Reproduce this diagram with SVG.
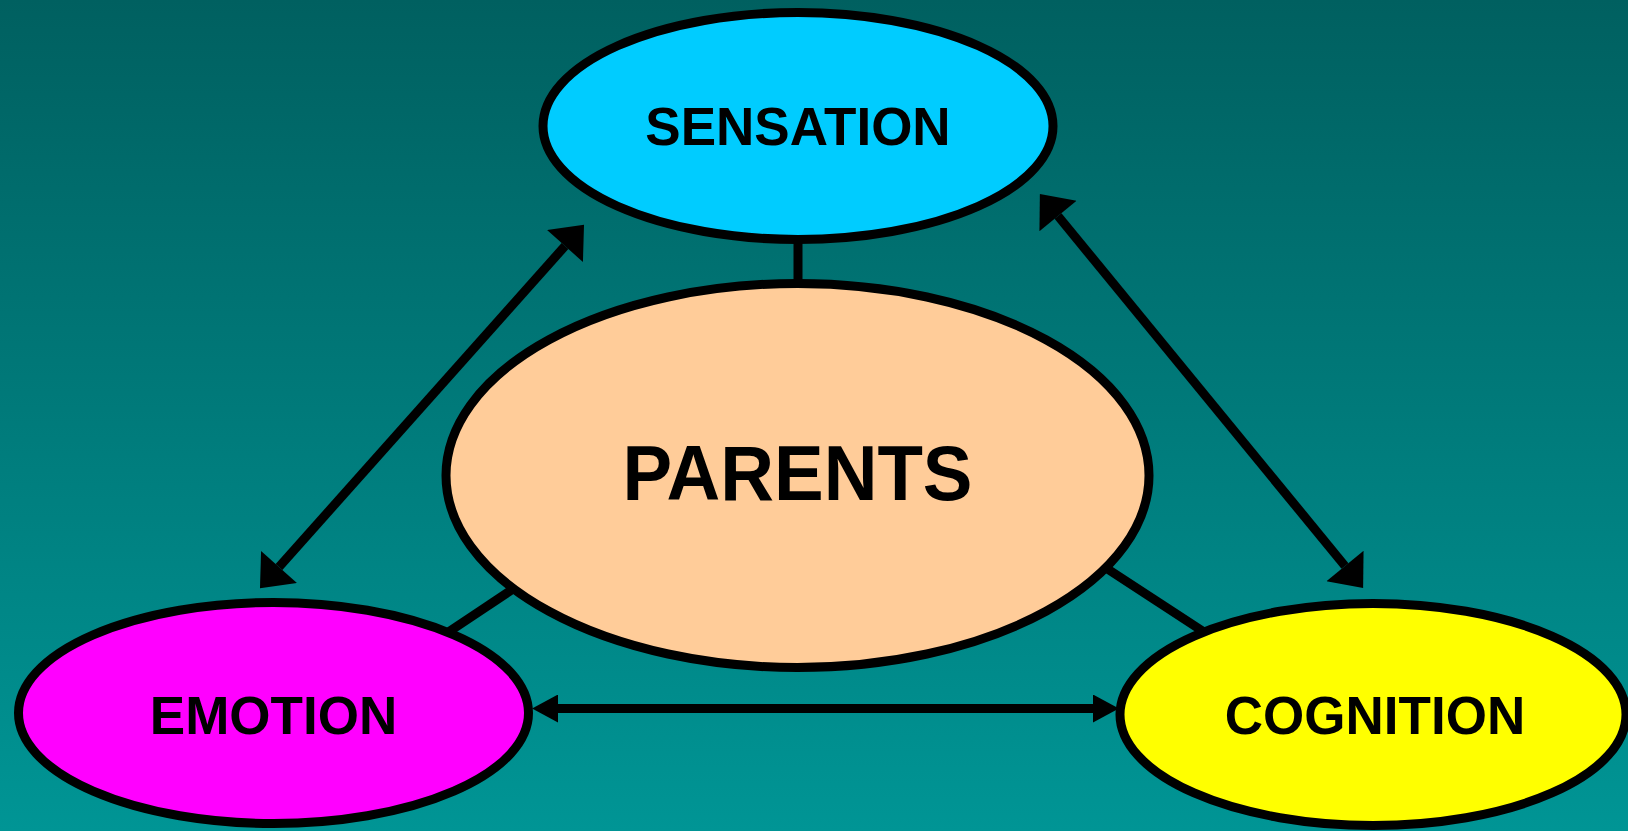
<svg xmlns="http://www.w3.org/2000/svg" width="1628" height="831" viewBox="0 0 1628 831">
<defs>
<linearGradient id="bg" x1="0" y1="0" x2="0" y2="1">
<stop offset="0" stop-color="#006060"/>
<stop offset="1" stop-color="#009595"/>
</linearGradient>
<marker id="bigHead" markerUnits="userSpaceOnUse" markerWidth="30" markerHeight="48" viewBox="0 0 28 47" refX="0" refY="23.5" orient="auto-start-reverse">
<path d="M0,0 L28,23.5 L0,47 Z" fill="#000"/>
</marker>
<marker id="smallHead" markerUnits="userSpaceOnUse" markerWidth="26" markerHeight="28" viewBox="0 0 25 27" refX="0" refY="13.5" orient="auto-start-reverse">
<path d="M0,0 L25,13.5 L0,27 Z" fill="#000"/>
</marker>
<style>
.node{stroke:#000;stroke-width:9}
.lbl{font-family:"Liberation Sans",Arial,sans-serif;font-weight:bold;fill:#000;text-anchor:middle}
.conn{stroke:#000;stroke-width:9;fill:none}
</style>
</defs>
<rect x="0" y="0" width="1628" height="831" fill="url(#bg)"/>
<g id="connectors">
<line class="conn" x1="798" y1="230" x2="798" y2="290"/>
<line class="conn" x1="420" y1="651" x2="540" y2="571"/>
<line class="conn" x1="1080" y1="551" x2="1230" y2="649"/>
<line class="conn" x1="565" y1="246" x2="279" y2="567" marker-start="url(#bigHead)" marker-end="url(#bigHead)"/>
<line class="conn" x1="1058" y1="216" x2="1345" y2="566" marker-start="url(#bigHead)" marker-end="url(#bigHead)"/>
<line class="conn" x1="558" y1="708.5" x2="1093" y2="708.5" marker-start="url(#smallHead)" marker-end="url(#smallHead)"/>
</g>
<g id="sensation">
<ellipse class="node" cx="798" cy="126" rx="255" ry="113.5" fill="#00CCFF"/>
<text class="lbl" x="798" y="145" font-size="53">SENSATION</text>
</g>
<g id="parents">
<ellipse class="node" cx="797.5" cy="475.5" rx="351.5" ry="192" fill="#FFCC99"/>
<text class="lbl" x="797.5" y="500" font-size="78" textLength="350" lengthAdjust="spacingAndGlyphs">PARENTS</text>
</g>
<g id="emotion">
<ellipse class="node" cx="273.5" cy="713" rx="255" ry="110.5" fill="#FF00FF"/>
<text class="lbl" x="273.5" y="734" font-size="53">EMOTION</text>
</g>
<g id="cognition">
<ellipse class="node" cx="1373" cy="714.5" rx="253" ry="111" fill="#FFFF00"/>
<text class="lbl" x="1375" y="734" font-size="53">COGNITION</text>
</g>
</svg>
